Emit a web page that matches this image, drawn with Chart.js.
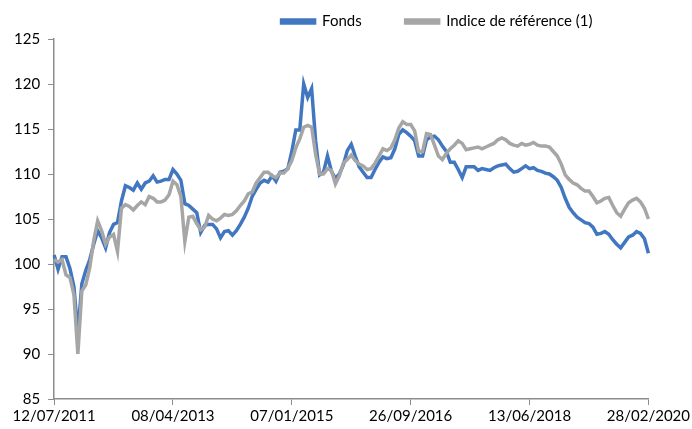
<!DOCTYPE html>
<html lang="fr">
<head>
    <meta charset="UTF-8">
    <title>Fonds vs Indice de référence</title>
    <script src="https://cdn.jsdelivr.net/npm/chart.js@4.4.1/dist/chart.umd.min.js"></script>
    <style>
        body { margin: 0; background: #fff; }
        .wrap { width: 692px; height: 429px; }
    </style>
</head>
<body>
<div class="wrap">
    <canvas id="myChart" aria-label="Fonds et indice de référence" role="img"></canvas>
</div>

<script>
    // x axis labels, one every 30 points
    var tickLabels = ['12/07/2011', '08/04/2013', '07/01/2015', '26/09/2016', '13/06/2018', '28/02/2020'];
    var pointsPerTick = 30;

    var fonds = [
        101.0, 99.4, 100.8, 100.8, 99.5, 97.5, 92.3, 97.8, 99.3, 100.5,
        102.2, 103.7, 102.9, 101.8, 103.5, 104.4, 104.6, 107.0, 108.7, 108.5,
        108.2, 109.0, 108.3, 109.0, 109.2, 109.8, 109.1, 109.2, 109.4, 109.4,
        110.5, 110.0, 109.3, 106.7, 106.5, 106.1, 105.7, 103.5, 104.3, 104.4,
        104.4, 103.9, 102.9, 103.6, 103.7, 103.2, 103.7, 104.4, 105.2, 106.2,
        107.5, 108.3, 109.0, 109.3, 109.1, 109.8, 109.2, 110.2, 110.3, 110.6,
        112.5, 114.9, 114.9, 120.0, 118.5, 119.5, 113.7, 109.9, 110.2, 112.0,
        110.3, 109.5, 110.0, 111.0, 112.6, 113.3, 112.0, 110.8, 110.2, 109.6,
        109.6, 110.5, 111.3, 111.9, 111.7, 111.8, 112.8, 114.4, 114.9, 114.6,
        114.2, 113.7, 112.0, 112.0, 113.8, 114.1, 114.2, 113.8, 113.1, 112.5,
        111.3, 111.3, 110.5, 109.6, 110.8, 110.8, 110.8, 110.4, 110.6, 110.5,
        110.4, 110.7, 110.9, 111.0, 111.1, 110.6, 110.2, 110.3, 110.6, 110.9,
        110.6, 110.7, 110.4, 110.3, 110.1, 110.0, 109.7, 109.3, 108.5, 107.3,
        106.3, 105.7, 105.2, 104.9, 104.6, 104.5, 104.1, 103.3, 103.4, 103.6,
        103.3, 102.7, 102.2, 101.8, 102.4, 103.0, 103.2, 103.6, 103.4, 102.8,
        101.2
    ];

    var indice = [
        100.5, 100.2, 100.5, 98.8, 98.5, 96.6, 90.0, 97.0, 97.7, 99.6,
        102.6, 104.8, 103.7, 102.2, 103.0, 103.3, 101.4, 106.2, 106.6, 106.4,
        106.0, 106.5, 106.9, 106.6, 107.5, 107.3, 106.9, 106.9, 107.1, 107.7,
        109.2, 108.8, 107.5, 102.5, 105.2, 105.3, 104.5, 103.8, 104.1, 105.4,
        105.0, 104.8, 105.1, 105.5, 105.4, 105.5, 105.9, 106.5, 107.0, 107.8,
        108.0, 109.0, 109.6, 110.2, 110.2, 109.8, 109.6, 110.1, 110.1, 110.6,
        111.5, 112.9, 113.9, 115.2, 115.4, 115.2, 112.2, 110.0, 110.0, 110.6,
        110.4, 108.9, 109.8, 111.2, 111.6, 112.1, 111.5, 111.1, 110.9, 110.5,
        110.6, 111.2, 112.0, 112.8, 112.6, 112.9, 113.8, 115.1, 115.8, 115.5,
        115.5, 114.8, 112.5, 112.5, 114.5, 114.4, 113.2, 112.0, 111.6, 112.3,
        112.8, 113.2, 113.7, 113.4, 112.7, 112.8, 112.9, 113.0, 112.8, 113.0,
        113.2, 113.4, 113.8, 114.0, 113.8, 113.4, 113.2, 113.1, 113.4, 113.2,
        113.3, 113.5, 113.2, 113.1, 113.1, 113.0, 112.5, 112.0, 111.1, 109.9,
        109.4, 109.0, 108.8, 108.4, 108.1, 108.1, 107.5, 106.8, 107.0, 107.3,
        107.4, 106.5, 105.7, 105.3, 106.1, 106.8, 107.1, 107.3, 106.9, 106.2,
        105.0
    ];

    var labels = fonds.map(function (v, i) {
        return i % pointsPerTick === 0 ? tickLabels[i / pointsPerTick] : '';
    });

    var axisColor = '#8c8c8c';
    var font = { family: 'Lato', size: 15 };

    // nudge the legend to the right, like the original
    var legendShift = {
        id: 'legendShift',
        afterLayout: function (chart) {
            chart.legend.left += 88;
            chart.legend.right += 88;
        }
    };

    var ctx = document.getElementById('myChart').getContext('2d');
    var myChart = new Chart(ctx, {
        type: 'line',
        data: {
            labels: labels,
            datasets: [
                {
                    label: 'Fonds',
                    data: fonds,
                    borderColor: '#4177c0',
                    backgroundColor: '#4177c0',
                    borderWidth: 3.5,
                    pointRadius: 0,
                    order: 1
                },
                {
                    label: 'Indice de référence (1)',
                    data: indice,
                    borderColor: '#a6a6a6',
                    backgroundColor: '#a6a6a6',
                    borderWidth: 3.5,
                    pointRadius: 0,
                    order: 0
                }
            ]
        },
        options: {
            responsive: true,
            maintainAspectRatio: false,
            animation: false,
            // legend padding is large (item spacing), pull it back up
            layout: { padding: { left: 6, right: 0, top: -30, bottom: 2 } },
            plugins: {
                tooltip: { enabled: false },
                legend: {
                    position: 'top',
                    labels: {
                        boxWidth: 33,
                        boxHeight: 3,
                        padding: 44,
                        color: '#000',
                        font: font,
                        sort: function (a, b) { return a.datasetIndex - b.datasetIndex; }
                    }
                }
            },
            scales: {
                x: {
                    offset: false,
                    grid: { drawOnChartArea: false, color: axisColor, tickLength: 6 },
                    border: { color: axisColor, width: 1.5 },
                    ticks: {
                        autoSkip: false,
                        maxRotation: 0,
                        color: '#000',
                        font: font,
                        padding: 2,
                        callback: function (val, i) {
                            return i % pointsPerTick === 0 ? tickLabels[i / pointsPerTick] : null;
                        }
                    }
                },
                y: {
                    min: 85,
                    max: 125,
                    grid: { drawOnChartArea: false, color: axisColor, tickLength: 6 },
                    border: { color: axisColor, width: 1.5 },
                    ticks: {
                        stepSize: 5,
                        color: '#000',
                        font: font,
                        padding: 8
                    }
                }
            }
        },
        plugins: [legendShift]
    });
</script>
</body>
</html>
